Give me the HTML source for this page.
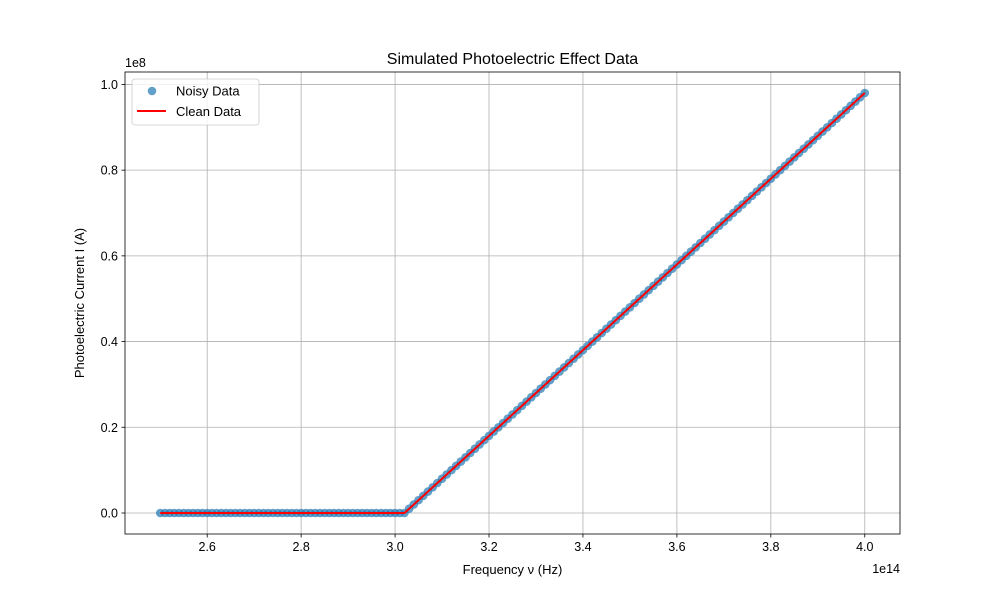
<!DOCTYPE html>
<html><head><meta charset="utf-8"><style>body{margin:0;background:#fff}svg{display:block;font-family:"Liberation Sans","DejaVu Sans",sans-serif}</style></head>
<body>
<svg id="chart" width="1000" height="600" xmlns="http://www.w3.org/2000/svg"></svg>
<script>
const freqs = [2.50,2.51,2.52,2.53,2.54,2.55,2.56,2.57,2.58,2.59,2.60,2.61,2.62,2.63,2.64,2.65,2.66,2.67,2.68,2.69,2.70,2.71,2.72,2.73,2.74,2.75,2.76,2.77,2.78,2.79,2.80,2.81,2.82,2.83,2.84,2.85,2.86,2.87,2.88,2.89,2.90,2.91,2.92,2.93,2.94,2.95,2.96,2.97,2.98,2.99,3.00,3.01,3.02,3.03,3.04,3.05,3.06,3.07,3.08,3.09,3.10,3.11,3.12,3.13,3.14,3.15,3.16,3.17,3.18,3.19,3.20,3.21,3.22,3.23,3.24,3.25,3.26,3.27,3.28,3.29,3.30,3.31,3.32,3.33,3.34,3.35,3.36,3.37,3.38,3.39,3.40,3.41,3.42,3.43,3.44,3.45,3.46,3.47,3.48,3.49,3.50,3.51,3.52,3.53,3.54,3.55,3.56,3.57,3.58,3.59,3.60,3.61,3.62,3.63,3.64,3.65,3.66,3.67,3.68,3.69,3.70,3.71,3.72,3.73,3.74,3.75,3.76,3.77,3.78,3.79,3.80,3.81,3.82,3.83,3.84,3.85,3.86,3.87,3.88,3.89,3.90,3.91,3.92,3.93,3.94,3.95,3.96,3.97,3.98,3.99,4.00];
const currents = [0,0,0,0,0,0,0,0,0,0,0,0,0,0,0,0,0,0,0,0,0,0,0,0,0,0,0,0,0,0,0,0,0,0,0,0,0,0,0,0,0,0,0,0,0,0,0,0,0,0,0,0,0,0.01,0.02,0.03,0.04,0.05,0.06,0.07,0.08,0.09,0.10,0.11,0.12,0.13,0.14,0.15,0.16,0.17,0.18,0.19,0.20,0.21,0.22,0.23,0.24,0.25,0.26,0.27,0.28,0.29,0.30,0.31,0.32,0.33,0.34,0.35,0.36,0.37,0.38,0.39,0.40,0.41,0.42,0.43,0.44,0.45,0.46,0.47,0.48,0.49,0.50,0.51,0.52,0.53,0.54,0.55,0.56,0.57,0.58,0.59,0.60,0.61,0.62,0.63,0.64,0.65,0.66,0.67,0.68,0.69,0.70,0.71,0.72,0.73,0.74,0.75,0.76,0.77,0.78,0.79,0.80,0.81,0.82,0.83,0.84,0.85,0.86,0.87,0.88,0.89,0.90,0.91,0.92,0.93,0.94,0.95,0.96,0.97,0.98];
const noisy = currents.slice();
const xTicks = [2.6,2.8,3.0,3.2,3.4,3.6,3.8,4.0];
const yTicks = [0,0.2,0.4,0.6,0.8,1.0];

const svg=document.getElementById('chart');
const NS='http://www.w3.org/2000/svg';
const L=125,R=900,T=72,B=534;
const xmin=2.425,xmax=4.075,ymin=-0.049,ymax=1.029;
const X=v=>L+(v-xmin)/(xmax-xmin)*(R-L);
const Y=v=>B-(v-ymin)/(ymax-ymin)*(B-T);
function mk(tag,attrs,parent){const e=document.createElementNS(NS,tag);for(const k in attrs)e.setAttribute(k,attrs[k]);(parent||svg).appendChild(e);return e;}
function txt(s,attrs){const e=mk('text',attrs);e.textContent=s;return e;}

xTicks.forEach(t=>{
 const g=mk('line',{x1:X(t),x2:X(t),y1:T,y2:B,stroke:'#b0b0b0','stroke-width':0.8});
 
 mk('line',{x1:X(t),x2:X(t),y1:B,y2:B+3.5,stroke:'#000','stroke-width':0.8});
 const l=txt(t.toFixed(1),{x:X(t),y:B+17,'font-size':12.5,'text-anchor':'middle'});
 
});
yTicks.forEach(t=>{
 const g=mk('line',{x1:L,x2:R,y1:Y(t),y2:Y(t),stroke:'#b0b0b0','stroke-width':0.8});
 
 mk('line',{x1:L-3.5,x2:L,y1:Y(t),y2:Y(t),stroke:'#000','stroke-width':0.8});
 const l=txt(t.toFixed(1),{x:L-7,y:Y(t)+4.5,'font-size':12.5,'text-anchor':'end'});
 
});

const pg=mk('g',{});

freqs.forEach((f,i)=>{
 const c=mk('circle',{cx:X(f),cy:Y(noisy[i]),r:4.3,fill:'#1f77b4','fill-opacity':0.7},pg);
 
});
const line=mk('polyline',{points:freqs.map((f,i)=>X(f)+','+Y(currents[i])).join(' '),fill:'none',stroke:'#ff0000','stroke-width':2});


const fr=mk('rect',{x:L,y:T,width:R-L,height:B-T,fill:'none',stroke:'#000','stroke-width':0.8});


const t1=txt('Simulated Photoelectric Effect Data',{x:(L+R)/2,y:64,'font-size':16,'text-anchor':'middle'});

const t2=txt('Frequency ν (Hz)',{x:(L+R)/2,y:574,'font-size':13,'text-anchor':'middle'});

const t3=txt('Photoelectric Current I (A)',{x:0,y:0,'font-size':13,'text-anchor':'middle',transform:'translate(84,303) rotate(-90)'});

const t4=txt('1e14',{x:900,y:573,'font-size':12.5,'text-anchor':'end'});

const t5=txt('1e8',{x:125,y:67,'font-size':12.5});


const lg=mk('g',{});

mk('rect',{x:132,y:79,width:127,height:46,rx:3,fill:'#fff','fill-opacity':0.8,stroke:'#ccc','stroke-width':0.8},lg);
const e1=mk('circle',{cx:152,cy:91,r:4.3,fill:'#1f77b4','fill-opacity':0.7},lg);

const l1=txt('Noisy Data',{x:176,y:95.5,'font-size':13});lg.appendChild(l1);

const e2=mk('line',{x1:137,x2:166,y1:111,y2:111,stroke:'#ff0000','stroke-width':2},lg);

const l2=txt('Clean Data',{x:176,y:116,'font-size':13});lg.appendChild(l2);

</script>
</body></html>
